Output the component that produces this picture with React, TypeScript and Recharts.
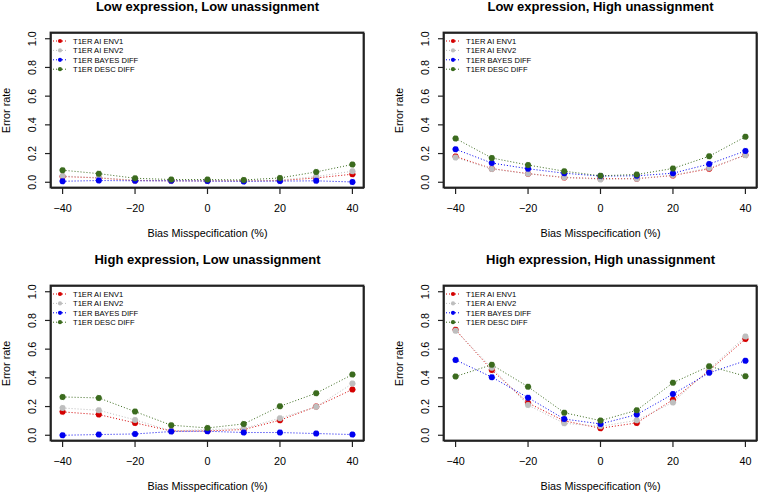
import React from 'react';
import { LineChart, Line, XAxis, YAxis, Legend, Label, ReferenceLine } from 'recharts';

const FONT = '"Liberation Sans", Arial, Helvetica, sans-serif';

// ---------- data ----------
const biasLevels = [-40, -30, -20, -10, 0, 10, 20, 30, 40];
const xTicks = [-40, -20, 0, 20, 40];
const yTicks = [0, 0.2, 0.4, 0.6, 0.8, 1.0];

const seriesNames = ['T1ER AI ENV1', 'T1ER AI ENV2', 'T1ER BAYES DIFF', 'T1ER DESC DIFF'];
const seriesColors = ['#d40000', '#bebebe', '#0000f0', '#3b6b1e'];

const panelTitles = [
  'Low expression, Low unassignment',
  'Low expression, High unassignment',
  'High expression, Low unassignment',
  'High expression, High unassignment',
];

// Low expression, Low unassignment
const lowLowEnv1 = [0.04, 0.03, 0.012, 0.01, 0.01, 0.01, 0.012, 0.03, 0.056];
const lowLowEnv2 = [0.044, 0.032, 0.015, 0.012, 0.012, 0.01, 0.015, 0.04, 0.077];
const lowLowBayes = [0.007, 0.012, 0.01, 0.01, 0.008, 0.006, 0.008, 0.01, 0.002];
const lowLowDesc = [0.084, 0.06, 0.028, 0.019, 0.019, 0.016, 0.03, 0.072, 0.124];

// Low expression, High unassignment
const lowHighEnv1 = [0.18, 0.095, 0.06, 0.033, 0.025, 0.025, 0.047, 0.094, 0.19];
const lowHighEnv2 = [0.172, 0.092, 0.059, 0.035, 0.02, 0.025, 0.05, 0.1, 0.188];
const lowHighBayes = [0.23, 0.134, 0.094, 0.063, 0.043, 0.045, 0.063, 0.127, 0.218];
const lowHighDesc = [0.305, 0.169, 0.12, 0.077, 0.045, 0.054, 0.096, 0.181, 0.317];

// High expression, Low unassignment
const highLowEnv1 = [0.163, 0.144, 0.086, 0.03, 0.03, 0.04, 0.105, 0.2, 0.319];
const highLowEnv2 = [0.19, 0.174, 0.107, 0.03, 0.04, 0.047, 0.119, 0.198, 0.36];
const highLowBayes = [0.0, 0.005, 0.009, 0.026, 0.028, 0.019, 0.019, 0.012, 0.005];
const highLowDesc = [0.267, 0.26, 0.165, 0.07, 0.051, 0.079, 0.202, 0.293, 0.423];

// High expression, High unassignment
const highHighEnv1 = [0.735, 0.454, 0.225, 0.1, 0.049, 0.086, 0.248, 0.45, 0.671];
const highHighEnv2 = [0.729, 0.47, 0.21, 0.083, 0.0625, 0.104, 0.229, 0.46, 0.6875];
const highHighBayes = [0.525, 0.405, 0.262, 0.113, 0.079, 0.144, 0.287, 0.435, 0.519];
const highHighDesc = [0.41, 0.491, 0.338, 0.157, 0.102, 0.174, 0.366, 0.481, 0.412];

const panelSeries = [
  [lowLowEnv1, lowLowEnv2, lowLowBayes, lowLowDesc],
  [lowHighEnv1, lowHighEnv2, lowHighBayes, lowHighDesc],
  [highLowEnv1, highLowEnv2, highLowBayes, highLowDesc],
  [highHighEnv1, highHighEnv2, highHighBayes, highHighDesc],
];

// ---------- layout ----------
const PANEL_W = 379;
const PANEL_H = 247;
const Y_AXIS_W = 51;
const X_DOMAIN: [number, number] = [-43.2, 43.2];
const Y_DOMAIN: [number, number] = [-0.04, 1.04];
const layouts = [
  { left: 0, top: 0, ml: 0, mr: 15, mt: 33, xh: 59 },
  { left: 379, top: 0, ml: 14, mr: 1, mt: 33, xh: 59 },
  { left: 0, top: 247, ml: 0, mr: 15, mt: 39, xh: 53 },
  { left: 379, top: 247, ml: 14, mr: 1, mt: 39, xh: 53 },
];
const AXIS_COLOR = '#222222';

const fmtX = (v: number) => (v < 0 ? '\u2212' + Math.abs(v) : String(v));

const XTick = (props: any) => {
  const { x, y, payload } = props;
  return (
    <text x={x} y={y + 17.6} textAnchor="middle" fontSize={10.8} fontFamily={FONT} fill="#000">
      {fmtX(payload.value)}
    </text>
  );
};

const YTick = (props: any) => {
  const { x, y, payload } = props;
  const bx = x - 9.4;
  return (
    <text
      x={bx}
      y={y}
      transform={`rotate(-90 ${bx} ${y})`}
      textAnchor="middle"
      fontSize={10.8}
      fontFamily={FONT}
      fill="#000"
    >
      {Number(payload.value).toFixed(1)}
    </text>
  );
};

const XTitle = (props: any) => {
  const vb = props.viewBox || {};
  return (
    <text
      x={vb.x + vb.width / 2}
      y={vb.y + 49}
      textAnchor="middle"
      fontSize={10.8}
      fontFamily={FONT}
      fill="#000"
    >
      Bias Misspecification (%)
    </text>
  );
};

const YTitle = (props: any) => {
  const vb = props.viewBox || {};
  const bx = vb.x + vb.width - 41.1;
  const cy = vb.y + vb.height / 2;
  return (
    <text
      x={bx}
      y={cy}
      transform={`rotate(-90 ${bx} ${cy})`}
      textAnchor="middle"
      fontSize={10.8}
      fontFamily={FONT}
      fill="#000"
    >
      Error rate
    </text>
  );
};

const PanelTitle = (props: any) => {
  const vb = props.viewBox || {};
  return (
    <text
      x={vb.x + vb.width / 2}
      y={vb.y - 22.3}
      textAnchor="middle"
      fontSize={13}
      fontWeight="bold"
      fontFamily={FONT}
      fill="#000"
    >
      {props.text}
    </text>
  );
};

const LegendBox = (props: any) => {
  const payload = props.payload || [];
  return (
    <svg width={130} height={46} style={{ display: 'block', overflow: 'visible' }}>
      {payload.map((entry: any, i: number) => {
        const cy = 8 + 9.4 * i;
        return (
          <g key={i}>
            <line x1={2} x2={17} y1={cy} y2={cy} stroke={entry.color} strokeDasharray="1 2" strokeWidth={1} />
            <circle cx={9} cy={cy} r={2.1} fill={entry.color} />
            <text x={22} y={cy + 2.7} fontSize={7.6} fontFamily={FONT} fill="#000">
              {entry.value}
            </text>
          </g>
        );
      })}
    </svg>
  );
};

function Panel({ index }: { index: number }) {
  const lay = layouts[index];
  const values = panelSeries[index];
  const rows = biasLevels.map((b, i) => ({
    bias: b,
    s0: values[0][i],
    s1: values[1][i],
    s2: values[2][i],
    s3: values[3][i],
  }));
  const boxLeft = lay.ml + Y_AXIS_W;
  const boxW = PANEL_W - lay.mr - boxLeft;
  const boxH = PANEL_H - lay.xh - lay.mt;
  return (
    <div style={{ position: 'absolute', left: lay.left, top: lay.top, width: PANEL_W, height: PANEL_H }}>
      <LineChart
        width={PANEL_W}
        height={PANEL_H}
        data={rows}
        margin={{ top: lay.mt, right: lay.mr, bottom: 0, left: lay.ml }}
      >
        <XAxis
          xAxisId="b"
          dataKey="bias"
          type="number"
          domain={X_DOMAIN}
          ticks={xTicks}
          interval={0}
          height={lay.xh}
          tickSize={6}
          tickMargin={0}
          stroke={AXIS_COLOR}
          axisLine={{ stroke: AXIS_COLOR, strokeWidth: 1.5 }}
          tickLine={{ stroke: AXIS_COLOR, strokeWidth: 1.2 }}
          tick={<XTick />}
        >
          <Label content={<XTitle />} />
        </XAxis>
        <YAxis
          yAxisId="l"
          type="number"
          domain={Y_DOMAIN}
          ticks={yTicks}
          interval={0}
          width={Y_AXIS_W}
          tickSize={6}
          tickMargin={0}
          stroke={AXIS_COLOR}
          axisLine={{ stroke: AXIS_COLOR, strokeWidth: 1.5 }}
          tickLine={{ stroke: AXIS_COLOR, strokeWidth: 1.2 }}
          tick={<YTick />}
        >
          <Label content={<YTitle />} />
        </YAxis>
        <ReferenceLine
          xAxisId="b"
          yAxisId="l"
          y={Y_DOMAIN[1]}
          stroke={AXIS_COLOR}
          strokeWidth={1.5}
          label={<PanelTitle text={panelTitles[index]} />}
        />
        <ReferenceLine
          xAxisId="b"
          yAxisId="l"
          x={X_DOMAIN[1]}
          stroke={AXIS_COLOR}
          strokeWidth={1.5}
        />
        <Legend
          layout="horizontal"
          align="center"
          verticalAlign="middle"
          wrapperStyle={{ left: boxLeft, top: lay.mt, width: 130, height: 46 }}
          content={(p: any) => <LegendBox payload={p.payload} />}
        />
        {seriesNames.map((name, k) => (
          <Line
            key={name}
            xAxisId="b"
            yAxisId="l"
            dataKey={`s${k}`}
            name={name}
            stroke={seriesColors[k]}
            strokeWidth={1}
            strokeDasharray="1 2"
            dot={{ r: 3, fill: seriesColors[k], stroke: seriesColors[k], strokeWidth: 0.4 }}
            activeDot={false}
            isAnimationActive={false}
          />
        ))}
      </LineChart>
      <svg
        width={PANEL_W}
        height={PANEL_H}
        style={{ position: 'absolute', left: 0, top: 0, zIndex: 10, pointerEvents: 'none' }}
      >
        <rect
          x={boxLeft - 0.5}
          y={lay.mt - 0.5}
          width={boxW}
          height={boxH}
          fill="none"
          stroke={AXIS_COLOR}
          strokeWidth={1.8}
        />
      </svg>
    </div>
  );
}

export default function App() {
  return (
    <div
      style={{
        position: 'absolute',
        left: 0,
        top: 0,
        width: 758,
        height: 494,
        background: '#fff',
        overflow: 'hidden',
      }}
    >
      {[0, 1, 2, 3].map((i) => (
        <Panel key={i} index={i} />
      ))}
    </div>
  );
}
